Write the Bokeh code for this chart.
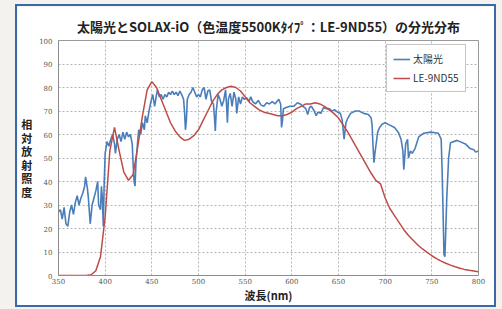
from bokeh.plotting import figure
from bokeh.layouts import column
from bokeh.models import Legend, LegendItem, FixedTicker, Range1d
from bokeh.embed import file_html
from bokeh.resources import INLINE

# ---- data ----
x_ticks = [350, 400, 450, 500, 550, 600, 650, 700, 750, 800]
y_ticks = [0, 10, 20, 30, 40, 50, 60, 70, 80, 90, 100]

sun_wl = [350, 352, 354, 356, 358, 360, 362, 364, 366, 368, 370, 372, 374, 376, 378, 379,
          381, 382, 384, 386, 388, 390, 392, 393, 395, 396, 397, 398, 399, 400, 402, 404,
          406, 408, 410, 411, 413, 415, 417, 419, 421, 423, 425, 427, 429, 430, 431, 432,
          433, 435, 436, 438, 440, 442, 443, 445, 447, 449, 451, 453, 455, 456, 458, 460,
          462, 464, 466, 468, 470, 472, 474, 476, 478, 480, 482, 484, 485, 486, 487, 488,
          490, 492, 494, 496, 498, 500, 502, 504, 506, 508, 510, 512, 514, 516, 517, 518,
          519, 521, 523, 525, 527, 529, 530, 531, 532, 534, 536, 538, 540, 541, 543, 545,
          547, 549, 552, 554, 556, 558, 561, 564, 567, 570, 573, 576, 579, 582, 584, 586,
          588, 589, 590, 591, 594, 598, 602, 606, 609, 612, 615, 617, 619, 621, 624, 626,
          628, 631, 634, 637, 640, 643, 646, 649, 652, 654, 656, 658, 660, 663, 668, 672,
          677, 682, 685, 686, 687, 688, 689, 690, 692, 694, 697, 700, 705, 710, 714, 717,
          719, 720, 722, 724, 725, 727, 729, 732, 736, 741, 749, 757, 760, 761, 762, 763,
          764, 765, 766, 768, 770, 777, 786, 791, 795, 797, 800]
sun_val = [27, 28, 24, 29, 22, 21, 27, 30, 26, 31, 34, 30, 33, 35, 38, 42,
           37, 33, 22, 30, 33, 36, 40, 30, 28, 38, 33, 21, 40, 52, 57, 55,
           58, 60, 56, 52, 58, 60, 57, 61, 58, 61, 59, 60, 56, 47, 40, 38,
           48, 58, 62, 60, 65, 62, 68, 65, 70, 74, 77, 72, 77, 79, 76, 77,
           75, 77, 76, 78, 77, 78.5, 77, 78, 76.5, 78.5, 77, 75, 70, 62, 66, 75,
           77, 78, 80, 78, 76, 77, 76, 79, 80, 75, 78.5, 79, 74, 73, 68, 61.5,
           70, 77, 75, 72, 74.5, 79, 73, 65, 75, 77.5, 72, 78, 75, 69, 76, 73,
           76, 75, 75.5, 74, 76, 74, 73, 74.5, 72.5, 72, 73.5, 73, 74, 73, 74, 75,
           73, 63, 66, 71, 71.5, 72, 72, 73.5, 73, 72, 71, 68.5, 71.5, 72, 70, 68,
           69.5, 69, 71.5, 71, 71, 70, 70.5, 69.5, 69, 66, 58, 65, 67, 69, 70, 70,
           69, 68.5, 67, 64, 55, 48, 52, 55, 61, 63, 64.5, 65, 64, 63, 61, 58,
           53, 45, 56, 58, 50, 53, 52, 54, 59, 60.5, 61, 60.5, 58, 45, 28, 9,
           8, 20, 33, 50, 56.5, 57.5, 56, 54, 53.5, 52.5, 53]

led_wl = list(range(350, 801, 5))
led_val = [0, 0, 0, 0, 0, 0, 0, 0.3, 2, 8, 25, 53, 63, 53, 44, 40.5, 43, 55, 68, 79,
           82.5, 80, 75, 70, 65, 61.5, 59, 57.5, 58, 59.5, 62, 66, 70, 74, 77, 79, 80, 80.5, 80, 78.5,
           76, 73.5, 72, 70.5, 69.5, 69, 68.5, 68, 68, 68.5, 69.5, 71, 72, 73, 73, 73.5, 73, 72, 70.5, 69,
           67, 64, 61, 57.5, 54, 50.5, 47, 43.5, 40.5, 39, 33, 28.5, 25.5, 22.5, 19.5, 17, 15, 13, 11.3, 9.8,
           8.4, 7.2, 6.1, 5.2, 4.4, 3.7, 3.1, 2.6, 2.2, 1.9, 1.6]

series_names = ["太陽光", "LE-9ND55"]
title_text = "太陽光とSOLAX-iO（色温度5500Kﾀｲﾌﾟ：LE-9ND55）の分光分布"
y_label_text = "相\n対\n放\n射\n照\n度"
x_label_text = "波長(nm)"

BLUE = "#4a7ebb"
RED = "#be4b48"
FRAME = "#3b68a9"
BEIGE = "#f4f2ee"
JP = "Noto Sans CJK JP"

p = figure(width=477, height=299, output_backend="svg", toolbar_location=None,
           x_range=Range1d(350, 800), y_range=Range1d(0, 100),
           min_border_left=41, min_border_right=16, min_border_top=34, min_border_bottom=28,
           margin=(6, 8, 4, 17), styles={"outline": "2px solid " + FRAME})
p.border_fill_color = "white"
p.background_fill_color = "white"
p.outline_line_color = "#9a9a9a"

p.title.text = title_text
p.title.align = "center"
p.title.offset = -48
p.title.text_font = JP
p.title.text_font_style = "bold"
p.title.text_font_size = "13px"
p.title.text_color = "#222222"
p.title.standoff = 9

for ax in (p.xaxis, p.yaxis):
    ax.axis_line_color = "#8c8c8c"
    ax.major_tick_line_color = None
    ax.minor_tick_line_color = None
    ax.major_tick_out = 0
    ax.major_tick_in = 0
    ax.minor_tick_out = 0
    ax.minor_tick_in = 0
    ax.major_label_text_font_size = "7px"
    ax.major_label_text_color = "#555555"
    ax.major_label_text_font = "DejaVu Serif"
    ax.axis_label_text_font = JP
    ax.axis_label_text_font_style = "bold"
    ax.axis_label_text_font_size = "11px"
    ax.axis_label_text_color = "#222222"
p.xaxis.ticker = FixedTicker(ticks=x_ticks)
p.yaxis.ticker = FixedTicker(ticks=y_ticks)
p.xaxis.major_label_standoff = 2
p.yaxis.major_label_standoff = 6
p.xaxis.axis_label = x_label_text
p.xaxis.axis_label_standoff = 0
p.yaxis.axis_label = y_label_text
p.yaxis.axis_label_orientation = "horizontal"
p.yaxis.axis_label_standoff = 4
p.yaxis.axis_label_text_line_height = 0.85

p.xgrid.ticker = FixedTicker(ticks=x_ticks)
p.ygrid.ticker = FixedTicker(ticks=y_ticks)
for g in (p.xgrid, p.ygrid):
    g.grid_line_color = "#b5b5b5"
    g.grid_line_dash = "2 2"
    g.grid_line_width = 1

r_sun = p.line(sun_wl, sun_val, line_color=BLUE, line_width=1.6)
r_led = p.line(led_wl, led_val, line_color=RED, line_width=1.5)

legend = Legend(items=[LegendItem(label=series_names[0], renderers=[r_sun]),
                       LegendItem(label=series_names[1], renderers=[r_led])],
                location=(328, 183))
legend.label_text_font = JP
legend.label_text_font_size = "10px"
legend.label_text_color = "#333333"
legend.glyph_width = 17
legend.glyph_height = 12
legend.label_height = 12
legend.label_standoff = 3
legend.spacing = 4
legend.padding = 6
legend.margin = 0
legend.border_line_color = "#8c8c8c"
legend.border_line_width = 1
legend.background_fill_color = "white"
legend.background_fill_alpha = 1.0
p.add_layout(legend, "center")

page = column(p, width=502, height=309, styles={"background-color": BEIGE})

open("out.html", "w").write(file_html(page, INLINE))
